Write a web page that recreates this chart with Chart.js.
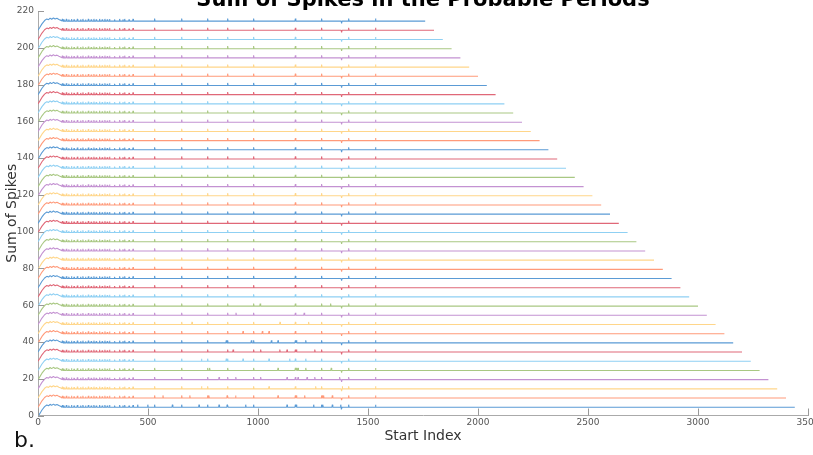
<!DOCTYPE html>
<html>
<head>
<meta charset="utf-8">
<script src="https://cdn.jsdelivr.net/npm/chart.js@4/dist/chart.umd.min.js"></script>
<style>
  html, body { margin:0; padding:0; background:#fff; }
  #wrap { position:relative; width:813px; height:455px; overflow:hidden; }
  #label { position:absolute; left:14px; top:427px; font-family:"DejaVu Sans"; font-size:22px; color:#111; }
</style>
</head>
<body>
<div id="wrap">
  <canvas id="chart" width="813" height="455"></canvas>
  <div id="label">b.</div>
</div>
<script>
// ===========================================
// DATA
// ===========================================

const TITLE = "Sum of Spikes in the Probable Periods";

// baseline of each trace, bottom to top
const offsets = [4.5, 9.5, 14.5, 19.5, 24.5, 29.5, 34.5, 39.5, 44.5, 49.5, 54.5,
  59.5, 64.5, 69.5, 74.5, 79.5, 84.5, 89.5, 94.5, 99.5, 104.5, 109.5, 114.5,
  119.5, 124.5, 129.5, 134.5, 139.5, 144.5, 149.5, 154.5, 159.5, 164.5, 169.5,
  174.5, 179.5, 184.5, 189.5, 194.5, 199.5, 204.5, 209.5, 214.5];

// last start index of each trace
const ends = [3440, 3400, 3360, 3320, 3280, 3240, 3200, 3160, 3120, 3080, 3040,
  3000, 2960, 2920, 2880, 2840, 2800, 2760, 2720, 2680, 2640, 2600, 2560,
  2520, 2480, 2440, 2400, 2360, 2320, 2280, 2240, 2200, 2160, 2120,
  2080, 2040, 2000, 1960, 1920, 1880, 1840, 1800, 1760];

// the rise at the start of every trace (start index, height above baseline)
const headX = [0, 8, 18, 30, 40, 48, 55, 62, 70, 78, 86, 95, 105];
const headY = [-5, -3.5, -1.5, 0.3, 1.2, 0.8, 1.6, 1.0, 1.7, 1.1, 1.5, 0.9, 0.4];

// small spikes shared by all traces
const denseSpikes = [111, 118, 129, 140, 152, 164, 179, 194, 204, 216, 229, 242,
  254, 265, 280, 292, 304, 315, 325, 348, 371, 386, 394, 414, 432];
const lateSpikes = [530, 653, 771, 862, 980, 1170, 1289, 1412, 1534];
const dipSpikes = [1380];

// extra spikes of the lower traces
const extraSpikes = {
  0: [453, 499, 611, 732, 823, 859, 944, 1132, 1174, 1253, 1295, 1338, 1376],
  1: [568, 690, 777, 859, 898, 1091, 1174, 1212, 1292, 1298, 1338],
  2: [743, 1050, 1262, 1384],
  3: [823, 899, 1012, 1132, 1182, 1223, 1258, 1371],
  4: [780, 1091, 1174, 1182, 1217, 1333],
  5: [743, 856, 932, 1050, 1144, 1217],
  6: [887, 1012, 1099, 1132, 1174, 1258],
  7: [856, 970, 1061, 1091, 1174, 1217],
  8: [932, 1020, 1050],
  9: [700, 1100, 1230],
  10: [900, 1210],
  11: [1010, 1330]
};

// colour cycle, bottom to top
const colors = ["#5b9bd5", "#ff9a7a", "#ffd68a", "#c492d2", "#a9c883", "#8fd0f3", "#e06878"];

// ===========================================
// BUILD TRACES
// ===========================================

function buildTrace(i){

  const base = offsets[i];
  const end = ends[i];
  const pts = [];

  for(let k = 0; k < headX.length; k++){
    pts.push({x: headX[k], y: base + headY[k]});
  }

  const spikes = [];
  denseSpikes.forEach((x, k) => spikes.push([x, k % 2 ? 0.9 : 1.2]));
  lateSpikes.forEach(x => spikes.push([x, 1.4]));
  dipSpikes.forEach(x => spikes.push([x, -1.2]));
  (extraSpikes[i] || []).forEach(x => spikes.push([x, 1.4]));
  spikes.sort((a, b) => a[0] - b[0]);

  spikes.forEach(s => {
    if(s[0] < end){
      pts.push({x: s[0] - 2, y: base});
      pts.push({x: s[0], y: base + s[1]});
      pts.push({x: s[0] + 2, y: base});
    }
  });

  pts.push({x: end, y: base});

  return pts;
}

const datasets = offsets.map((o, i) => ({
  data: buildTrace(i),
  borderColor: colors[i % colors.length],
  borderWidth: 1.1,
  borderJoinStyle: "bevel",
  pointRadius: 0,
  tension: 0,
  fill: false
}));

// ===========================================
// PLUGINS
// ===========================================

// inward tick marks + clipped title at the very top
const extras = {
  id: "extras",
  afterDraw(chart){
    const ctx = chart.ctx;
    const xs = chart.scales.x;
    const ys = chart.scales.y;
    const area = chart.chartArea;

    ctx.save();
    ctx.strokeStyle = "#999";
    ctx.lineWidth = 1;
    ctx.beginPath();
    xs.ticks.forEach(t => {
      const px = Math.round(xs.getPixelForValue(t.value)) + 0.5;
      ctx.moveTo(px, area.bottom);
      ctx.lineTo(px, area.bottom - 7);
    });
    ys.ticks.forEach(t => {
      const py = Math.round(ys.getPixelForValue(t.value)) + 0.5;
      ctx.moveTo(area.left, py);
      ctx.lineTo(area.left + 6, py);
    });
    ctx.stroke();

    ctx.fillStyle = "#000";
    ctx.font = "bold 21px 'DejaVu Sans'";
    ctx.textAlign = "center";
    ctx.textBaseline = "alphabetic";
    ctx.fillText(TITLE, 423, 6);
    ctx.restore();
  }
};

// ===========================================
// CHART
// ===========================================

new Chart(document.getElementById("chart"), {

  type: "line",

  data: { datasets: datasets },

  plugins: [extras],

  options: {

    responsive: false,
    animation: false,

    layout: { padding: { top: 11, right: 5, bottom: 0, left: 0 } },

    plugins: {
      legend: { display: false },
      tooltip: { enabled: false }
    },

    scales: {

      x: {
        type: "linear",
        min: 0,
        max: 3500,
        afterFit: s => { s.height = 39.5; s.paddingLeft = 0; s.paddingRight = 0; },
        ticks: {
          stepSize: 500,
          color: "#555",
          padding: 2,
          maxRotation: 0,
          callback: v => String(v),
          font: { family: "DejaVu Sans", size: 9 }
        },
        grid: { drawOnChartArea: false, drawTicks: false },
        border: { color: "#aaa" },
        title: {
          display: true,
          text: "Start Index",
          color: "#333",
          font: { family: "DejaVu Sans", size: 14 },
          padding: { top: 0, bottom: 10.6 }
        }
      },

      y: {
        min: 0,
        max: 220,
        afterFit: s => { s.width = 38; s.paddingTop = 0; s.paddingBottom = 0; },
        ticks: {
          stepSize: 20,
          color: "#555",
          padding: 4,
          font: { family: "DejaVu Sans", size: 9 }
        },
        grid: { drawOnChartArea: false, drawTicks: false },
        border: { color: "#aaa" },
        title: {
          display: true,
          text: "Sum of Spikes",
          color: "#333",
          font: { family: "DejaVu Sans", size: 14 },
          padding: { top: 3.6, bottom: 0 }
        }
      }

    }

  }

});
</script>
</body>
</html>
